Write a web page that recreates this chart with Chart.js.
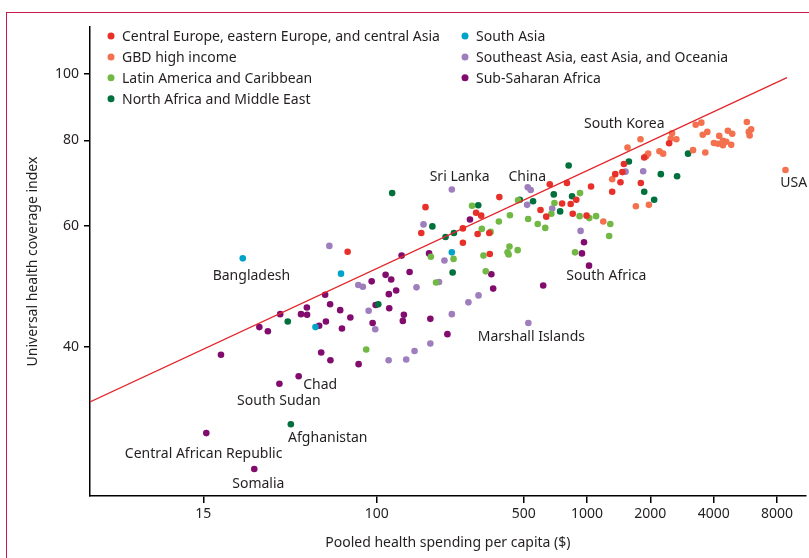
<!DOCTYPE html>
<html>
<head>
<meta charset="utf-8">
<script src="https://cdn.jsdelivr.net/npm/chart.js@4.4.1/dist/chart.umd.min.js"></script>
<style>
  html, body { margin: 0; padding: 0; background: #fff; overflow: hidden; }
  #wrap { position: relative; width: 809px; height: 558px; }
  #frame { position: absolute; left: 6px; top: 12px; width: 840px; height: 600px;
           border-left: 1px solid #c9184a; border-top: 1px solid #c9184a; }
  canvas { position: absolute; left: 0; top: 0; }
</style>
</head>
<body>
<div id="wrap">
  <div id="frame"></div>
  <canvas id="uhcChart" width="809" height="558"></canvas>
</div>
<script>
// [pooled health spending per capita ($), UHC index]
const centralEurope = [
  [2456, 79.2], [1870, 75.5], [1497, 73.9], [1472, 71.9], [1442, 69.5], [1317, 67.3], [1362, 71.4],
  [1802, 69.3], [665, 69.0], [803, 69.3], [383, 66.1], [1045, 68.5], [889, 65.5], [836, 64.6],
  [761, 64.7], [601, 63.3], [640, 61.9], [855, 62.5], [995, 62.1], [170.7, 63.9], [297, 62.7],
  [314, 62.1], [257, 59.5], [302, 58.4], [343, 58.6], [163, 58.6], [257, 56.7], [345, 54.6], [72.8, 55.0]
];
const gbdHighIncome = [
  [5750, 85.1], [6025, 83.0], [5875, 82.3], [5930, 81.3], [3285, 84.3], [3494, 84.9], [3548, 81.5],
  [3730, 82.3], [4250, 81.2], [4672, 82.6], [4900, 81.8], [4011, 79.3], [4190, 79.1], [4425, 79.9],
  [4590, 79.6], [4425, 78.7], [4845, 78.8], [2536, 81.9], [2501, 80.5], [2658, 80.3], [1795, 80.3],
  [1558, 78.1], [2209, 77.1], [2300, 76.5], [1952, 76.5], [1911, 75.8], [3190, 77.4], [3649, 76.8],
  [8775, 72.4], [1317, 70.2], [1707, 64.1], [1968, 64.4], [1195, 60.9]
];
const latinAmerica = [
  [926, 67.0], [700, 64.8], [284, 64.2], [470, 65.4], [677, 62.5], [430, 62.2], [381, 60.9],
  [525, 61.4], [583, 60.4], [633, 59.6], [922, 62.0], [1025, 61.6], [1104, 62.0], [1290, 60.4],
  [1274, 58.0], [316, 59.4], [348, 58.8], [428, 56.0], [468, 55.3], [419, 54.9], [424, 54.5],
  [322, 54.3], [232, 53.7], [181, 54.1], [877, 54.9], [330, 51.5], [191.6, 49.6], [89.2, 39.6]
];
const northAfrica = [
  [3020, 76.5], [1581, 74.5], [818, 73.5], [2243, 71.4], [2680, 70.9], [1870, 67.3], [2085, 65.5],
  [695, 66.7], [849, 66.3], [479, 65.5], [554, 65.2], [745, 63.0], [304, 64.3], [184, 59.9],
  [212.6, 57.8], [233, 58.6], [229.7, 51.3], [118.5, 67.0], [101.8, 46.1], [37.8, 43.5], [39.1, 30.8]
];
const southAsia = [
  [23.1, 53.8], [67.7, 51.1], [51.2, 42.7], [227.7, 54.9]
];
const southeastAsia = [
  [1524, 72.0], [1849, 72.1], [227.7, 67.8], [522.6, 68.3], [540, 67.7], [519, 64.4], [683, 63.6],
  [167, 60.3], [932, 59.0], [210, 53.4], [198, 49.7], [154.7, 48.8], [305, 47.5], [273, 46.4],
  [227.7, 44.6], [526, 43.3], [180, 40.4], [151.4, 39.4], [138.2, 38.3], [114, 38.2], [59.6, 56.1],
  [81.8, 49.2], [86.0, 48.9], [91.6, 45.1], [98.5, 42.4]
];
const subSaharan = [
  [277.7, 61.3], [131.4, 54.3], [177.5, 54.7], [967.5, 56.8], [946, 54.7], [1022, 52.5], [143.4, 51.4],
  [351, 51.0], [358, 48.6], [619, 49.1], [134.7, 44.5], [133.2, 43.6], [180, 43.9], [217, 41.7],
  [110.3, 50.9], [117.3, 50.1], [94.7, 49.8], [56.9, 47.6], [123.8, 48.3], [114.3, 47.7], [60.1, 46.1],
  [46.6, 45.6], [34.8, 44.6], [43.7, 44.6], [46.7, 44.5], [67.1, 45.2], [98.9, 46.0], [114.8, 45.5],
  [75, 44.1], [57.4, 43.5], [27.7, 42.7], [30.4, 42.1], [53.3, 42.9], [68.4, 42.5], [95.7, 43.3],
  [18.2, 38.9], [54.5, 39.2], [60.3, 38.2], [82.1, 37.7], [42.6, 36.2], [34.5, 35.3], [15.5, 29.9], [26.2, 26.5]
];

// regression line end points
const fitX = [4.34, 8920];
const fitY = [33.2, 98.8];

const xTicks = [15, 100, 500, 1000, 2000, 4000, 8000];
const yTicks = [40, 60, 80, 100];

const countryLabels = [
  ["South Korea", 1503, 84.5], ["Sri Lanka", 248, 70.7], ["China", 520, 70.7], ["USA", 9606, 69.3],
  ["Bangladesh", 25.4, 50.7], ["South Africa", 1235, 50.7], ["Marshall Islands", 544, 41.3],
  ["Chad", 53.9, 35.1], ["South Sudan", 34.3, 33.3], ["Afghanistan", 58.6, 29.4],
  ["Central African Republic", 15.05, 27.9], ["Somalia", 27.4, 25.2]
];

const FONT = "'Noto Sans', sans-serif";
const textColor = "#231f20";

const groups = [
  { label: "Central Europe, eastern Europe, and central Asia", data: centralEurope, color: "#e8302a" },
  { label: "GBD high income", data: gbdHighIncome, color: "#f3714f" },
  { label: "Latin America and Caribbean", data: latinAmerica, color: "#72b845" },
  { label: "North Africa and Middle East", data: northAfrica, color: "#00703c" },
  { label: "South Asia", data: southAsia, color: "#00a3c8" },
  { label: "Southeast Asia, east Asia, and Oceania", data: southeastAsia, color: "#9f7ebe" },
  { label: "Sub-Saharan Africa", data: subSaharan, color: "#820c6e" }
];

const datasets = groups.map((g) => ({
  label: g.label,
  data: g.data.map((p) => ({ x: p[0], y: p[1] })),
  backgroundColor: g.color,
  borderWidth: 0,
  pointRadius: 3.3,
  pointHoverRadius: 3.3,
  showLine: false,
  order: 2
}));

datasets.push({
  label: "fit",
  data: fitX.map((x, i) => ({ x: x, y: fitY[i] })),
  showLine: true,
  borderColor: "#e3262c",
  borderWidth: 1.3,
  pointRadius: 0,
  fill: false,
  order: 1
});

// two-column legend inside the plot + country labels
const annotate = {
  id: "annotate",
  afterDraw(chart) {
    const ctx = chart.ctx;
    const area = chart.chartArea;
    const xs = chart.scales.x;
    const ys = chart.scales.y;
    ctx.save();
    ctx.font = "14px " + FONT;
    ctx.fillStyle = textColor;
    ctx.textAlign = "center";
    ctx.textBaseline = "middle";
    countryLabels.forEach((l) => {
      ctx.fillText(l[0], xs.getPixelForValue(l[1]), ys.getPixelForValue(l[2]));
    });

    ctx.textAlign = "left";
    groups.forEach((g, i) => {
      const col = i < 4 ? 0 : 1;
      const row = i < 4 ? i : i - 4;
      const dx = area.left + (col === 0 ? 21 : 375);
      const dy = area.top + 9 + row * 20.9;
      ctx.beginPath();
      ctx.fillStyle = g.color;
      ctx.arc(dx, dy, 3.5, 0, Math.PI * 2);
      ctx.fill();
      ctx.fillStyle = textColor;
      ctx.fillText(g.label, dx + 11, dy + 1);
    });
    ctx.restore();
  }
};

new Chart(document.getElementById("uhcChart"), {
  type: "scatter",
  data: { datasets: datasets },
  options: {
    responsive: false,
    animation: false,
    layout: { padding: { top: 27, right: 1, left: 0, bottom: 0 } },
    plugins: { legend: { display: false }, tooltip: { enabled: false } },
    scales: {
      x: {
        type: "logarithmic",
        min: 4.34,
        max: 10950,
        afterBuildTicks: (s) => { s.ticks = xTicks.map((v) => ({ value: v })); },
        afterFit: (s) => { s.height = 62; },
        ticks: {
          color: textColor, font: { family: FONT, size: 14 }, padding: 3,
          autoSkip: false, maxRotation: 0, callback: (v) => String(v)
        },
        grid: { drawOnChartArea: false, drawTicks: true, tickLength: 7, color: "#000", lineWidth: 1.5 },
        border: { display: true, color: "#000", width: 1.5 },
        title: {
          display: true, text: "Pooled health spending per capita ($)", color: textColor,
          font: { family: FONT, size: 14 }, padding: { top: 0, bottom: 7 }
        }
      },
      y: {
        type: "logarithmic",
        min: 24.2,
        max: 117.1,
        afterBuildTicks: (s) => { s.ticks = yTicks.map((v) => ({ value: v })); },
        afterFit: (s) => { s.width = 90; },
        ticks: {
          color: textColor, font: { family: FONT, size: 14 }, padding: 5,
          autoSkip: false, callback: (v) => String(v)
        },
        grid: { drawOnChartArea: false, drawTicks: true, tickLength: 6, color: "#000", lineWidth: 1.5 },
        border: { display: true, color: "#000", width: 1.5 },
        title: {
          display: true, text: "Universal health coverage index", color: textColor,
          font: { family: FONT, size: 14 }, padding: { top: 24.6, bottom: 0 }
        }
      }
    }
  },
  plugins: [annotate]
});
</script>
</body>
</html>
